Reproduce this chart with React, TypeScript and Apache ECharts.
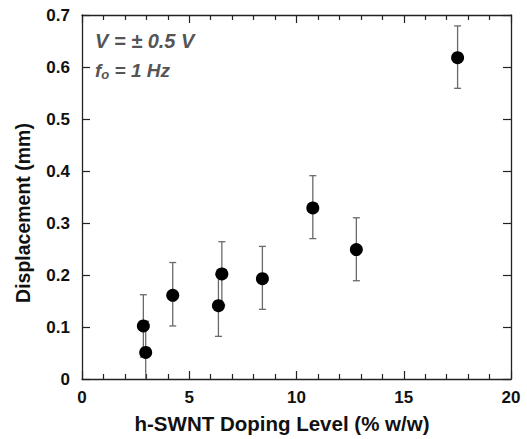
import React, { useEffect, useRef } from "react";
import * as echarts from "echarts";

const dopingLevel = [2.86, 2.97, 4.23, 6.36, 6.52, 8.41, 10.76, 12.79, 17.51];
const displacement = [0.102, 0.051, 0.161, 0.141, 0.202, 0.193, 0.329, 0.249, 0.618];
const errorUp = [0.06, 0.06, 0.063, 0.06, 0.062, 0.062, 0.062, 0.061, 0.061];
const errorDown = [0.06, 0.06, 0.059, 0.059, 0.06, 0.059, 0.059, 0.06, 0.059];

const xTitle = "h-SWNT Doping Level (% w/w)";
const yTitle = "Displacement (mm)";
const voltageNote = "V = ± 0.5 V";

const FONT = "Liberation Sans, Arial, Helvetica, sans-serif";

export default function App() {
  const ref = useRef<HTMLDivElement>(null);
  useEffect(() => {
    if (!ref.current) return;
    const chart = echarts.init(ref.current, undefined, { renderer: "svg" });
    const pts = dopingLevel.map((x, i) => [x, displacement[i]]);
    const errData = dopingLevel.map((x, i) => [x, displacement[i], errorUp[i], errorDown[i]]);
    const axisLine = { show: true, onZero: false, lineStyle: { color: "#222", width: 1.3 } };
    const tick = { show: true, inside: true, length: 8, lineStyle: { color: "#222", width: 1.2 } };
    const minor = { show: true, splitNumber: 5, length: 5, lineStyle: { color: "#222", width: 1.2 } };
    const labelStyle = { fontFamily: FONT, fontWeight: "bold", fontSize: 17, color: "#111" };
    chart.setOption({
      animation: false,
      backgroundColor: "#fff",
      grid: { left: 82, right: 16, top: 15, bottom: 60, containLabel: false },
      xAxis: [
        {
          type: "value", min: 0, max: 20, interval: 5, position: "bottom",
          axisLine, splitLine: { show: false }, axisTick: tick, minorTick: minor,
          axisLabel: { ...labelStyle, margin: 10 },
        },
        {
          type: "value", min: 0, max: 20, interval: 5, position: "top",
          axisLine, splitLine: { show: false }, axisTick: tick, minorTick: minor,
          axisLabel: { show: false },
        },
      ],
      yAxis: [
        {
          type: "value", min: 0, max: 0.7, interval: 0.1, position: "left",
          axisLine, splitLine: { show: false }, axisTick: tick,
          axisLabel: { ...labelStyle, margin: 12 },
        },
        {
          type: "value", min: 0, max: 0.7, interval: 0.1, position: "right",
          axisLine, splitLine: { show: false }, axisTick: tick,
          axisLabel: { show: false },
        },
      ],
      series: [
        {
          type: "custom",
          data: errData,
          z: 1,
          renderItem: (params: any, api: any) => {
            const x = api.value(0), y = api.value(1), up = api.value(2), dn = api.value(3);
            const lo = y - dn;
            const top = api.coord([x, y + up]);
            const bot = api.coord([x, Math.max(0, lo)]);
            const c = 3.5;
            const style = { stroke: "#6a6a6a", lineWidth: 1.3 };
            const children: any[] = [
              { type: "line", shape: { x1: top[0], y1: top[1], x2: bot[0], y2: bot[1] }, style },
              { type: "line", shape: { x1: top[0] - c, y1: top[1], x2: top[0] + c, y2: top[1] }, style },
            ];
            if (lo >= 0) {
              children.push({ type: "line", shape: { x1: bot[0] - c, y1: bot[1], x2: bot[0] + c, y2: bot[1] }, style });
            }
            return { type: "group", children };
          },
        },
        {
          type: "scatter",
          data: pts,
          symbol: "circle",
          symbolSize: 13,
          z: 3,
          itemStyle: { color: "#000", opacity: 1 },
        },
      ],
      graphic: [
        {
          type: "text", x: 282, y: 423, z: 10,
          style: {
            text: xTitle, align: "center", verticalAlign: "middle",
            fontFamily: FONT, fontWeight: "bold", fontSize: 20.5, fill: "#111",
          },
        },
        {
          type: "text", x: 23, y: 213, rotation: Math.PI / 2, z: 10,
          style: {
            text: yTitle, align: "center", verticalAlign: "middle",
            fontFamily: FONT, fontWeight: "bold", fontSize: 19.5, fill: "#111",
          },
        },
        {
          type: "text", x: 95, y: 31, z: 10,
          style: {
            text: voltageNote,
            fontFamily: FONT, fontWeight: "bold", fontStyle: "italic", fontSize: 20, fill: "#555",
          },
        },
        {
          type: "text", x: 95, y: 59, z: 10,
          style: {
            text: "{a|f}{b|o}{a| = 1 Hz}",
            fill: "#555",
            rich: {
              a: { fontFamily: FONT, fontWeight: "bold", fontStyle: "italic", fontSize: 19, fill: "#555" },
              b: { fontFamily: FONT, fontWeight: "bold", fontStyle: "italic", fontSize: 13, fill: "#555", padding: [9, 0, 0, 0] },
            },
          },
        },
      ],
    });
    return () => chart.dispose();
  }, []);
  return <div ref={ref} style={{ width: 527, height: 439, position: "absolute", left: 0, top: 0 }} />;
}
